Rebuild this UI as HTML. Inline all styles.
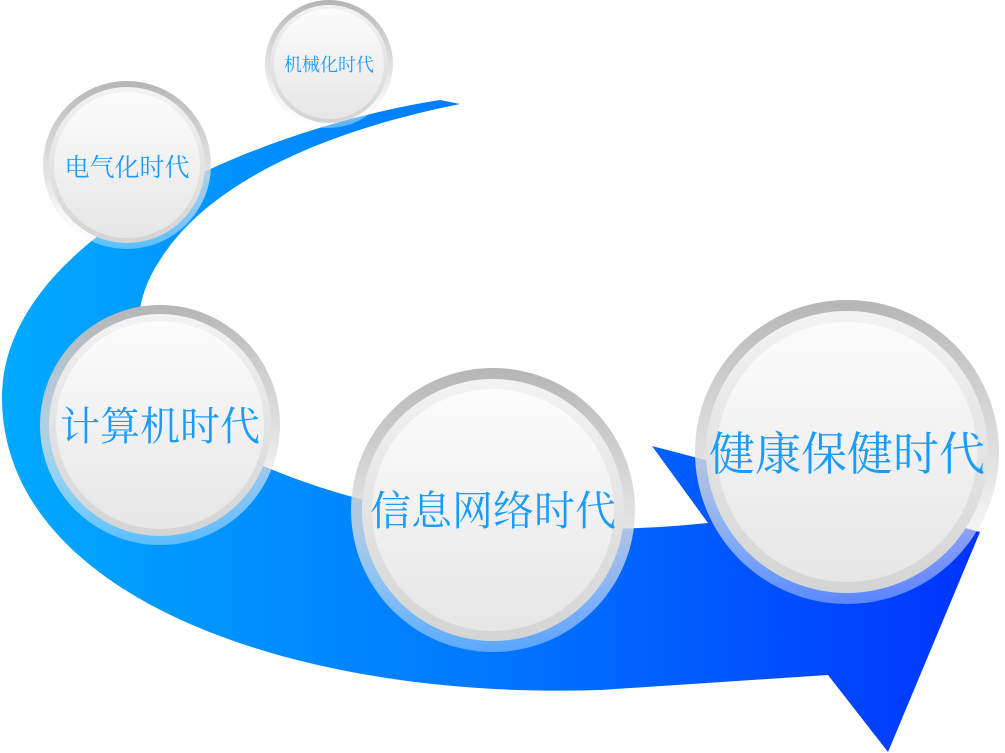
<!DOCTYPE html>
<html><head><meta charset="utf-8"><style>
html,body{margin:0;padding:0;background:#fff;width:1005px;height:753px;overflow:hidden}
text{font-family:"Liberation Serif","Noto Serif CJK SC",serif;fill:#1a9cff}
</style></head><body>
<svg width="1005" height="753" viewBox="0 0 1005 753" xmlns="http://www.w3.org/2000/svg">
<defs>
<linearGradient id="ag" x1="0" y1="0" x2="1" y2="0">
<stop offset="0" stop-color="#00aaff"/><stop offset="0.5" stop-color="#0077ff"/><stop offset="1" stop-color="#0033ff"/>
</linearGradient>
<linearGradient id="ring" x1="0" y1="0" x2="0" y2="1">
<stop offset="0" stop-color="#b5b5b5"/><stop offset="0.55" stop-color="#dcdcdc" stop-opacity="0.8"/><stop offset="1" stop-color="#ffffff" stop-opacity="0.35"/>
</linearGradient>
<linearGradient id="face" x1="0" y1="0" x2="0" y2="1">
<stop offset="0" stop-color="#fcfcfc"/><stop offset="1" stop-color="#e6e6e6"/>
</linearGradient>
<linearGradient id="edge" x1="0" y1="0" x2="0" y2="1">
<stop offset="0" stop-color="#f3f3f3"/><stop offset="1" stop-color="#d4d4d4"/>
</linearGradient>
</defs>
<path d="M440,100 C250,130 0,240 2,400 C5,600 300,700 600,690 L828,675 L888,752 L980,532 L652,446 L708,523 C500,545 330,500 240,455 C130,400 120,320 160,260 C210,180 330,130 460,104 Z" fill="url(#ag)"/>
<g>
<circle cx="329" cy="64" r="64" fill="url(#ring)"/><circle cx="329" cy="64" r="59" fill="url(#edge)"/><circle cx="329" cy="64" r="55" fill="url(#face)"/>
<text x="329" y="71" font-size="18" text-anchor="middle">机械化时代</text>
</g>
<g>
<circle cx="127" cy="165" r="84" fill="url(#ring)"/><circle cx="127" cy="165" r="78" fill="url(#edge)"/><circle cx="127" cy="165" r="73" fill="url(#face)"/>
<text x="127" y="176" font-size="25" text-anchor="middle">电气化时代</text>
</g>
<g>
<circle cx="160" cy="425" r="120" fill="url(#ring)"/><circle cx="160" cy="425" r="111" fill="url(#edge)"/><circle cx="160" cy="425" r="104" fill="url(#face)"/>
<text x="160" y="440" font-size="40" text-anchor="middle">计算机时代</text>
</g>
<g>
<circle cx="493" cy="510" r="142" fill="url(#ring)"/><circle cx="493" cy="510" r="131" fill="url(#edge)"/><circle cx="493" cy="510" r="121" fill="url(#face)"/>
<text x="493" y="525" font-size="41" text-anchor="middle">信息网络时代</text>
</g>
<g>
<circle cx="847" cy="452" r="152" fill="url(#ring)"/><circle cx="847" cy="452" r="141" fill="url(#edge)"/><circle cx="847" cy="452" r="130" fill="url(#face)"/>
<text x="847" y="470" font-size="46" text-anchor="middle">健康保健时代</text>
</g>
</svg>
</body></html>
